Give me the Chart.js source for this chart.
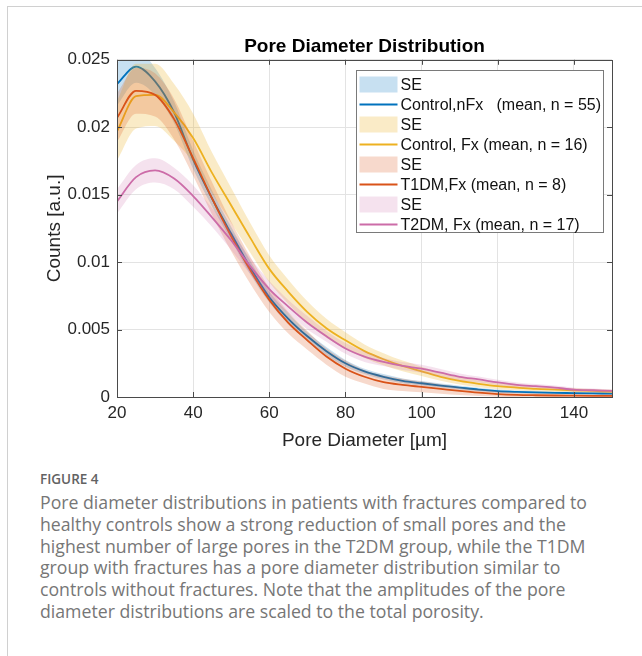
<!DOCTYPE html>
<html>
<head>
<meta charset="utf-8">
<script src="https://cdn.jsdelivr.net/npm/chart.js@4.4.0/dist/chart.umd.min.js"></script>
<style>
    body { margin: 0; background: #fff; width: 642px; height: 656px; overflow: hidden; position: relative; }
    #moldura { position: absolute; left: 7px; top: 6px; width: 700px; height: 700px; border-left: 1px solid #d0d0d0; border-top: 1px solid #d0d0d0; }
    #caixa_grafico { position: absolute; left: 0; top: 0; width: 642px; height: 460px; }
    #legenda_figura { position: absolute; left: 40px; top: 469px; width: 600px; font-family: 'Open Sans', sans-serif; color: #767676; }
    #figura_num { font-size: 13.5px; font-weight: 600; line-height: 20px; color: #626262; }
    #texto_figura { margin-top: 3px; font-size: 17px; line-height: 21.8px; white-space: nowrap; }
</style>
</head>
<body>
<div id="moldura"></div>
<div id="caixa_grafico"><canvas id="chartPoros" width="642" height="460"></canvas></div>
<div id="legenda_figura">
    <div id="figura_num">FIGURE 4</div>
    <div id="texto_figura">
        <div>Pore diameter distributions in patients with fractures compared to</div>
        <div>healthy controls show a strong reduction of small pores and the</div>
        <div>highest number of large pores in the T2DM group, while the T1DM</div>
        <div>group with fractures has a pore diameter distribution similar to</div>
        <div>controls without fractures. Note that the amplitudes of the pore</div>
        <div>diameter distributions are scaled to the total porosity.</div>
    </div>
</div>
<script>
// x values (pore diameter, µm)
var diameters = [20, 25, 30, 35, 40, 45, 50, 55, 60, 65, 70, 75, 80, 85, 90, 95, 100, 105, 110, 115, 120, 125, 130, 135, 140, 145, 150];

// mean curves
var meanControlNFx = [0.0232, 0.0245, 0.0234, 0.0211, 0.0176, 0.0147, 0.0121, 0.0096, 0.0074, 0.0058, 0.0045, 0.0034, 0.0025, 0.0019, 0.0015, 0.0012, 0.00102, 0.00085, 0.0007, 0.00055, 0.00044, 0.00038, 0.00034, 0.00031, 0.00029, 0.00027, 0.00025];
var meanControlFx = [0.0197, 0.0223, 0.0224, 0.0211, 0.0192, 0.0166, 0.0142, 0.0118, 0.0095, 0.0078, 0.0063, 0.0051, 0.0042, 0.0034, 0.0028, 0.0023, 0.0019, 0.0015, 0.0012, 0.00098, 0.0008, 0.0007, 0.0006, 0.00055, 0.0005, 0.00045, 0.0004];
var meanT1DMFx = [0.0207, 0.0227, 0.0224, 0.0206, 0.0177, 0.0147, 0.0119, 0.0094, 0.0072, 0.0055, 0.0042, 0.003, 0.0021, 0.0015, 0.0011, 0.0009, 0.00075, 0.0006, 0.00045, 0.00032, 0.00022, 0.00016, 0.00013, 0.00011, 0.0001, 0.00009, 0.00008];
var meanT2DMFx = [0.0145, 0.0163, 0.0168, 0.0162, 0.0149, 0.0133, 0.0116, 0.0097, 0.008, 0.0067, 0.0055, 0.0045, 0.0036, 0.003, 0.0026, 0.0023, 0.0021, 0.0018, 0.0015, 0.0013, 0.00108, 0.0009, 0.0008, 0.0007, 0.00055, 0.0005, 0.00045];

// standard error half widths
var seControlNFx = [0.0016, 0.0012, 0.001, 0.0008, 0.0007, 0.0006, 0.0005, 0.0005, 0.0004, 0.0004, 0.0003, 0.0003, 0.00025, 0.0002, 0.0002, 0.00018, 0.00016, 0.00015, 0.00014, 0.00013, 0.00012, 0.00011, 0.0001, 0.0001, 0.0001, 0.0001, 0.0001];
var seControlFx = [0.0022, 0.0024, 0.0023, 0.0021, 0.0018, 0.0015, 0.0013, 0.0011, 0.001, 0.0009, 0.0008, 0.0007, 0.0006, 0.0005, 0.00045, 0.0004, 0.00035, 0.0003, 0.00028, 0.00025, 0.00022, 0.0002, 0.00018, 0.00016, 0.00015, 0.00014, 0.00013];
var seT1DMFx = [0.0018, 0.0017, 0.0016, 0.0015, 0.0013, 0.0012, 0.0011, 0.001, 0.0009, 0.0008, 0.0007, 0.0006, 0.0006, 0.0005, 0.0005, 0.00045, 0.0004, 0.00035, 0.0003, 0.00025, 0.0002, 0.00018, 0.00015, 0.00013, 0.00012, 0.0001, 0.0001];
var seT2DMFx = [0.0009, 0.0009, 0.0009, 0.0008, 0.0008, 0.0007, 0.0007, 0.0006, 0.0006, 0.0005, 0.0005, 0.0004, 0.0004, 0.0004, 0.0003, 0.0003, 0.0003, 0.00028, 0.00025, 0.00022, 0.0002, 0.00018, 0.00016, 0.00015, 0.00014, 0.00013, 0.00012];

var seriesLabels = ['Control,nFx   (mean, n = 55)', 'Control, Fx (mean, n = 16)', 'T1DM,Fx (mean, n = 8)', 'T2DM, Fx (mean, n = 17)'];
var bandLabel = 'SE';

// axis ticks
var xTickValues = [20, 40, 60, 80, 100, 120, 140];
var yTickValues = [0, 0.005, 0.01, 0.015, 0.02, 0.025];
var yTickLabels = ['0', '0.005', '0.01', '0.015', '0.02', '0.025'];

var fonte = "'Liberation Sans', Arial, sans-serif";
var corTexto = '#262626';

var grupos = [
    { mean: meanControlNFx, se: seControlNFx, line: 'rgb(0,114,189)', band: 'rgba(0,114,189,0.22)' },
    { mean: meanControlFx, se: seControlFx, line: 'rgb(237,177,32)', band: 'rgba(237,177,32,0.25)' },
    { mean: meanT1DMFx, se: seT1DMFx, line: 'rgb(217,83,25)', band: 'rgba(217,83,25,0.22)' },
    { mean: meanT2DMFx, se: seT2DMFx, line: 'rgb(204,108,168)', band: 'rgba(204,108,168,0.2)' }
];

function pontos(valores, desvio, sinal) {
    return diameters.map(function (x, k) {
        return { x: x, y: valores[k] + sinal * (desvio ? desvio[k] : 0) };
    });
}

// first group is drawn at the bottom, like MATLAB does
var datasets = [];
grupos.forEach(function (g, i) {
    var base = 100 - i * 2;
    datasets.push({
        label: bandLabel, data: pontos(g.mean, g.se, 1), borderWidth: 0, pointRadius: 0,
        backgroundColor: g.band, fill: '+1', order: base, cubicInterpolationMode: 'monotone'
    });
    datasets.push({
        label: bandLabel, data: pontos(g.mean, g.se, -1), borderWidth: 0, pointRadius: 0,
        fill: false, order: base, cubicInterpolationMode: 'monotone'
    });
    datasets.push({
        label: seriesLabels[i], data: pontos(g.mean, null, 0), borderColor: g.line, borderWidth: 1.8,
        pointRadius: 0, fill: false, order: base - 1, cubicInterpolationMode: 'monotone'
    });
});

// axes box, inward ticks and the boxed legend
var caixaLegenda = {
    id: 'caixaLegenda',
    afterDraw: function (chart) {
        var ctx = chart.ctx;
        var a = chart.chartArea;
        var xs = chart.scales.x;
        var ys = chart.scales.y;
        ctx.save();
        ctx.strokeStyle = '#4a4a4a';
        ctx.lineWidth = 1;
        ctx.strokeRect(Math.round(a.left) + 0.5, Math.round(a.top) + 0.5, Math.round(a.right - a.left), Math.round(a.bottom - a.top));
        ctx.beginPath();
        xTickValues.forEach(function (v) {
            var px = Math.round(xs.getPixelForValue(v)) + 0.5;
            ctx.moveTo(px, a.bottom); ctx.lineTo(px, a.bottom - 5);
            ctx.moveTo(px, a.top); ctx.lineTo(px, a.top + 5);
        });
        yTickValues.forEach(function (v) {
            var py = Math.round(ys.getPixelForValue(v)) + 0.5;
            ctx.moveTo(a.left, py); ctx.lineTo(a.left + 5, py);
            ctx.moveTo(a.right, py); ctx.lineTo(a.right - 5, py);
        });
        ctx.stroke();

        // legend
        var lx = 356.5, ly = 70.5, lw = 247, lh = 162;
        ctx.fillStyle = '#fff';
        ctx.fillRect(lx, ly, lw, lh);
        ctx.strokeStyle = '#7a7a7a';
        ctx.strokeRect(lx, ly, lw, lh);
        ctx.font = '16px ' + fonte;
        ctx.textBaseline = 'middle';
        ctx.textAlign = 'left';
        grupos.forEach(function (g, i) {
            var cy1 = ly + 14 + i * 40;
            var cy2 = cy1 + 20;
            ctx.fillStyle = g.band;
            ctx.fillRect(lx + 3, cy1 - 8, 38, 16);
            ctx.fillStyle = '#111';
            ctx.fillText(bandLabel, lx + 44, cy1 + 1);
            ctx.strokeStyle = g.line;
            ctx.lineWidth = 2;
            ctx.beginPath();
            ctx.moveTo(lx + 3, cy2); ctx.lineTo(lx + 41, cy2);
            ctx.stroke();
            ctx.fillStyle = '#111';
            ctx.fillText(seriesLabels[i], lx + 44, cy2 + 1);
        });
        ctx.restore();
    }
};

var config = {
    type: 'line',
    data: { datasets: datasets },
    options: {
        responsive: false,
        animation: false,
        devicePixelRatio: 1,
        layout: { padding: { left: 0, right: 30, top: 0, bottom: 0 } },
        plugins: {
            legend: { display: false },
            tooltip: { enabled: false },
            filler: { drawTime: 'beforeDatasetDraw' },
            title: {
                display: true, text: 'Pore Diameter Distribution', fullSize: false, color: '#000',
                font: { family: fonte, size: 19, weight: 'bold' }, padding: { top: 35, bottom: 2 }
            }
        },
        scales: {
            x: {
                type: 'linear', min: 20, max: 150,
                afterBuildTicks: function (s) { s.ticks = xTickValues.map(function (v) { return { value: v }; }); },
                afterFit: function (s) { s.height = 63; },
                grid: { color: '#e3e3e3', drawTicks: false },
                border: { display: false },
                ticks: { color: corTexto, font: { family: fonte, size: 17 }, padding: 6, maxRotation: 0, autoSkip: false },
                title: { display: true, text: 'Pore Diameter [µm]', color: corTexto, font: { family: fonte, size: 19 }, padding: { top: 0, bottom: 8 } }
            },
            y: {
                min: 0, max: 0.025,
                afterBuildTicks: function (s) { s.ticks = yTickValues.map(function (v) { return { value: v }; }); },
                afterFit: function (s) { s.width = 117; },
                grid: { color: '#e3e3e3', drawTicks: false },
                border: { display: false },
                ticks: {
                    color: corTexto, font: { family: fonte, size: 17 }, padding: 7, autoSkip: false,
                    callback: function (v) { return yTickLabels[yTickValues.indexOf(v)]; }
                },
                title: { display: true, text: 'Counts [a.u.]', color: corTexto, font: { family: fonte, size: 19 }, padding: { top: 43, bottom: 0 } }
            }
        }
    },
    plugins: [caixaLegenda]
};

new Chart(document.getElementById('chartPoros'), config);

// fit caption width to the reference (first line ~547px)
var medidor = document.createElement('canvas').getContext('2d');
medidor.font = "100px 'Open Sans'";
var largura = medidor.measureText('Pore diameter distributions in patients with fractures compared to').width;
document.getElementById('texto_figura').style.fontSize = (547 / largura * 100).toFixed(2) + 'px';
</script>
</body>
</html>
